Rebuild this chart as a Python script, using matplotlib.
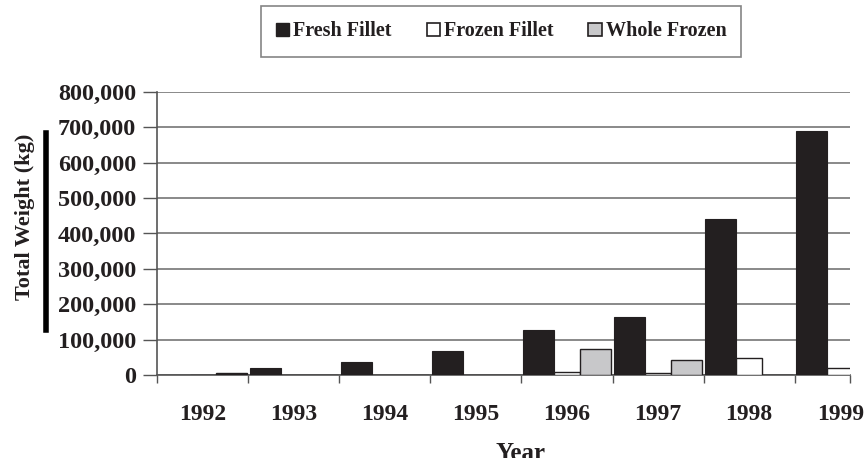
import matplotlib
matplotlib.use("Agg")
import matplotlib.pyplot as plt
import numpy as np
from matplotlib.lines import Line2D
from matplotlib.patches import Patch
from matplotlib.ticker import FuncFormatter, FixedLocator

years = ["1992", "1993", "1994", "1995", "1996", "1997", "1998", "1999"]
fresh_fillet = [0, 20000, 36000, 69000, 128000, 165000, 441000, 691000]
frozen_fillet = [0, 0, 0, 0, 9000, 5000, 47000, 19000]
whole_frozen = [7000, 0, 0, 0, 73000, 42000, 0, 0]
series_names = ["Fresh Fillet", "Frozen Fillet", "Whole Frozen"]

DARK = "#231f20"
GRAY = "#c8c8ca"
whole_colors = [DARK] + [GRAY] * (len(years) - 1)

plt.rcParams['font.family'] = ['Liberation Serif', 'DejaVu Serif']
plt.rcParams['font.weight'] = 'bold'

fig = plt.figure(figsize=(8.67, 4.58), dpi=100)
W, H = 867, 458
ax = fig.add_axes([157 / W, 1 - 375 / H, 693 / W, 283 / H])

x = np.arange(len(years))
ax.bar(x - 0.313, fresh_fillet, width=0.34, color=DARK, edgecolor=DARK, linewidth=0.8, zorder=3)
ax.bar(x, frozen_fillet, width=0.286, color="white", edgecolor=DARK, linewidth=1.0, zorder=3)
ax.bar(x + 0.313, whole_frozen, width=0.34, color=whole_colors, edgecolor=DARK, linewidth=1.0, zorder=3)

ax.set_xlim(-0.5, 7.107)
ax.set_ylim(0, 800000)

ax.yaxis.set_major_locator(FixedLocator(np.arange(0, 800001, 100000)))
ax.yaxis.set_major_formatter(FuncFormatter(lambda v, p: f"{int(v):,}"))
ax.grid(axis='y', color="#808080", linewidth=1.3, zorder=0)
ax.set_axisbelow(True)

boundaries = list(np.arange(-0.5, 7.0, 1.0)) + [7.107]
ax.set_xticks(boundaries)
ax.set_xticklabels([])
ax.set_xticks(x, minor=True)
ax.set_xticklabels(years, minor=True)
ax.tick_params(axis='x', which='major', direction='out', length=6, width=1.0, color="#555555")
ax.tick_params(axis='x', which='minor', length=0, pad=21, labelsize=17, labelcolor=DARK)
ax.tick_params(axis='y', direction='out', length=10, width=1.0, color="#555555", pad=5,
               labelsize=17.5, labelcolor=DARK)

for s in ["top", "right"]:
    ax.spines[s].set_visible(False)
for s in ["left", "bottom"]:
    ax.spines[s].set_color("#555555")
    ax.spines[s].set_linewidth(1.2)

# Y label and the black bar next to it
fig.text(25 / W, 1 - 217 / H, "Total Weight (kg)", rotation=90, ha='center', va='center',
         fontsize=16, fontweight='bold', color=DARK)
fig.add_artist(Line2D([45.5 / W, 45.5 / W], [1 - 133 / H, 1 - 330 / H], color='black',
                      linewidth=4.0, transform=fig.transFigure))

# X label (cut at bottom like the reference)
fig.text(521 / W, 1 - 442 / H, "Year", ha='center', va='top', fontsize=18, fontweight='bold',
         color=DARK)

handles = [Patch(facecolor=DARK, edgecolor=DARK),
           Patch(facecolor="white", edgecolor=DARK, linewidth=1.2),
           Patch(facecolor=GRAY, edgecolor=DARK, linewidth=1.2)]
leg = fig.legend(handles, series_names, loc='center', bbox_to_anchor=(501 / W, 1 - 31.5 / H),
                 ncol=3, fontsize=14.5, frameon=True, fancybox=False, edgecolor="#666666",
                 handlelength=0.65, handleheight=0.65, handletextpad=0.2, columnspacing=1.75,
                 borderpad=0.75, borderaxespad=0)
leg.get_frame().set_linewidth(1.2)
for t in leg.get_texts():
    t.set_color(DARK)

fig.savefig("out.png", dpi=100)
